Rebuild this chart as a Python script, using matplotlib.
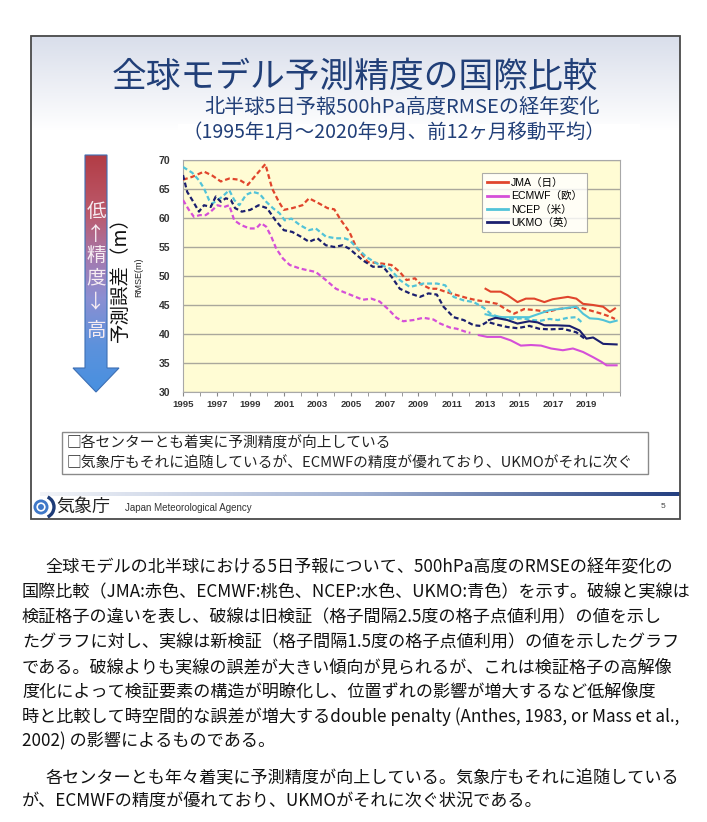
import numpy as np
import matplotlib
matplotlib.use('Agg')
import matplotlib.pyplot as plt
from matplotlib.colors import LinearSegmentedColormap
from matplotlib.patches import Rectangle, Polygon, Circle, Arc
from matplotlib.ticker import MultipleLocator

plt.rcParams['font.family'] = ['Noto Sans CJK JP', 'DejaVu Sans']

W, H = 707, 822

# ---- data ----
# 破線 = 旧検証 (2.5度格子)
jma_old_years = [1995.0, 1995.55, 1996.25, 1996.75, 1997.25, 1997.75, 1998.35, 1998.85, 1999.25, 1999.9,
                 2000.3, 2000.7, 2001.0, 2001.5, 2002.1, 2002.5, 2003.1, 2003.6, 2004.0, 2004.4,
                 2004.9, 2005.3, 2006.0, 2006.7, 2007.4, 2007.9, 2008.3, 2008.8, 2009.1, 2009.7,
                 2010.1, 2010.6, 2011.3, 2011.9, 2012.5, 2013.0, 2013.7, 2014.3, 2014.7, 2015.3,
                 2016.0, 2016.7, 2017.3, 2018.0, 2018.7, 2019.3, 2019.9, 2020.4, 2020.7]
jma_old = [66.6, 67.1, 68.0, 67.3, 66.3, 66.8, 66.6, 65.7, 67.1, 69.3,
           65.1, 62.8, 61.4, 61.7, 62.2, 63.4, 62.5, 61.7, 61.5, 59.6,
           57.6, 55.0, 52.4, 52.2, 51.9, 50.7, 49.3, 49.6, 48.7, 47.8,
           47.8, 47.3, 46.7, 46.2, 45.8, 45.6, 45.2, 44.1, 43.5, 44.3,
           44.1, 43.8, 44.3, 44.5, 44.5, 44.0, 43.5, 43.0, 42.6]

ecmwf_old_years = [1995.0, 1995.35, 1995.65, 1996.0, 1996.35, 1996.65, 1997.05, 1997.45, 1997.75, 1998.05,
                   1998.45, 1998.95, 1999.35, 1999.65, 1999.95, 2000.25, 2000.55, 2000.95, 2001.35, 2001.95,
                   2002.4, 2002.9, 2003.5, 2004.1, 2004.5, 2005.1, 2005.7, 2006.2, 2006.7, 2007.2,
                   2007.7, 2008.1, 2008.7, 2009.3, 2009.9, 2010.3, 2010.9, 2011.3, 2011.9, 2012.1]
ecmwf_old = [63.1, 61.4, 60.2, 60.5, 60.5, 61.1, 62.2, 61.9, 62.2, 59.6,
             58.8, 58.2, 58.2, 59.1, 58.5, 56.8, 54.7, 53.0, 51.9, 51.3,
             51.0, 50.7, 49.3, 47.8, 47.3, 46.6, 45.9, 46.1, 45.6, 44.3,
             42.8, 42.2, 42.4, 42.8, 42.5, 41.8, 41.1, 40.9, 40.3, 40.2]

ncep_old_years = [1995.0, 1995.55, 1995.95, 1996.25, 1996.55, 1996.75, 1997.35, 1997.75, 1998.05, 1998.35,
                  1998.75, 1999.15, 1999.55, 1999.95, 2000.35, 2000.75, 2001.05, 2001.45, 2001.95, 2002.5,
                  2002.9, 2003.5, 2004.1, 2004.6, 2004.9, 2005.3, 2005.9, 2006.5, 2007.3, 2007.9,
                  2008.5, 2009.3, 2010.1, 2010.6, 2011.1, 2011.7, 2012.3, 2012.9, 2013.3, 2013.8,
                  2014.5, 2015.2, 2015.8, 2016.3, 2016.8, 2017.3, 2017.9, 2018.4, 2018.8]
ncep_old = [68.8, 67.8, 66.5, 65.1, 63.1, 62.5, 63.7, 64.8, 63.1, 62.2,
            64.0, 64.5, 64.2, 62.8, 61.7, 60.8, 59.6, 59.9, 58.8, 57.9,
            58.2, 56.8, 56.5, 56.5, 56.2, 55.0, 53.3, 52.2, 51.3, 49.3,
            48.1, 48.7, 48.7, 48.4, 46.4, 45.8, 45.5, 44.5, 43.5, 42.9,
            42.6, 42.7, 42.4, 42.3, 42.6, 42.4, 42.8, 42.9, 41.8]

ukmo_old_years = [1995.0, 1995.25, 1995.55, 1995.95, 1996.25, 1996.65, 1996.95, 1997.25, 1997.55, 1997.85,
                  1998.1, 1998.5, 1999.0, 1999.5, 2000.0, 2000.5, 2001.0, 2001.5, 2002.0, 2002.5,
                  2003.0, 2003.5, 2004.0, 2004.5, 2004.9, 2005.7, 2006.3, 2006.9, 2007.4, 2007.9,
                  2008.5, 2009.1, 2009.6, 2010.1, 2010.5, 2011.1, 2011.7, 2012.3, 2012.7, 2013.1,
                  2013.7, 2014.3, 2014.9, 2015.6, 2016.2, 2016.8, 2017.6, 2018.4, 2018.9]
ukmo_old = [67.4, 64.5, 63.1, 61.1, 62.2, 61.9, 63.7, 62.8, 63.4, 63.1,
            61.7, 61.1, 61.4, 62.2, 61.7, 59.6, 57.9, 57.6, 56.8, 55.9,
            56.5, 55.3, 55.0, 55.3, 54.7, 52.7, 51.6, 51.6, 49.9, 47.8,
            47.0, 46.4, 47.0, 46.8, 44.7, 42.9, 42.4, 41.5, 41.4, 42.1,
            41.6, 41.2, 41.0, 41.4, 40.9, 40.8, 40.9, 40.3, 39.2]

# 実線 = 新検証 (1.5度格子)
jma_new_years = [2013.0, 2013.3, 2013.9, 2014.3, 2014.9, 2015.4, 2015.9, 2016.5, 2017.0, 2017.9,
                 2018.4, 2018.8, 2019.4, 2020.0, 2020.4, 2020.7]
jma_new = [47.8, 47.3, 47.3, 46.7, 45.5, 46.1, 46.1, 45.5, 46.0, 46.4,
           46.1, 45.2, 45.0, 44.7, 43.8, 44.4]

ecmwf_new_years = [2012.6, 2013.1, 2013.9, 2014.5, 2015.1, 2015.7, 2016.3, 2016.9, 2017.6, 2018.2,
                   2018.8, 2019.4, 2019.9, 2020.2, 2020.8]
ecmwf_new = [39.8, 39.5, 39.5, 38.9, 38.0, 38.1, 38.0, 37.5, 37.2, 37.5,
             36.9, 36.0, 35.2, 34.6, 34.6]

ncep_new_years = [2013.0, 2013.3, 2014.0, 2014.8, 2015.6, 2016.2, 2016.8, 2017.6, 2018.4, 2018.8,
                  2019.2, 2019.7, 2020.0, 2020.4, 2020.8]
ncep_new = [43.4, 43.2, 42.9, 42.9, 42.9, 43.5, 44.1, 44.4, 44.7, 43.5,
            42.7, 42.6, 42.4, 42.0, 42.3]

ukmo_new_years = [2013.2, 2013.6, 2014.3, 2014.9, 2015.6, 2016.1, 2016.5, 2017.2, 2018.0, 2018.6,
                  2019.0, 2019.4, 2020.0, 2020.8]
ukmo_new = [42.4, 42.8, 42.4, 41.8, 42.2, 42.0, 41.5, 41.5, 41.4, 40.6,
            39.2, 39.4, 38.3, 38.2]

series_labels = ['JMA（日）', 'ECMWF（欧）', 'NCEP（米）', 'UKMO（英）']
series_colors = ['#e0452c', '#d54fd8', '#52c3d8', '#1b1f6e']

box_lines = ['□各センターとも着実に予測精度が向上している',
             '□気象庁もそれに追随しているが、ECMWFの精度が優れており、UKMOがそれに次ぐ']

body_lines = [
    '全球モデルの北半球における5日予報について、500hPa高度のRMSEの経年変化の',
    '国際比較（JMA:赤色、ECMWF:桃色、NCEP:水色、UKMO:青色）を示す。破線と実線は',
    '検証格子の違いを表し、破線は旧検証（格子間隔2.5度の格子点値利用）の値を示し',
    'たグラフに対し、実線は新検証（格子間隔1.5度の格子点値利用）の値を示したグラフ',
    'である。破線よりも実線の誤差が大きい傾向が見られるが、これは検証格子の高解像',
    '度化によって検証要素の構造が明瞭化し、位置ずれの影響が増大するなど低解像度',
    '時と比較して時空間的な誤差が増大するdouble penalty (Anthes, 1983, or Mass et al.,',
    '2002) の影響によるものである。',
    '各センターとも年々着実に予測精度が向上している。気象庁もそれに追随している',
    'が、ECMWFの精度が優れており、UKMOがそれに次ぐ状況である。',
]
body_y = [567, 592, 617, 642, 667, 692, 717, 741, 778, 802]
body_indent = [True, False, False, False, False, False, False, False, True, False]
body_full = [True, True, True, True, True, True, True, False, True, False]

fig = plt.figure(figsize=(W / 100, H / 100), dpi=100)

# background axes in pixel units
bg = fig.add_axes([0, 0, 1, 1])
bg.axis('off')
bg.set_xlim(0, W)
bg.set_ylim(H, 0)

# slide with light top gradient
rows = np.arange(36, 520)
t = np.clip((rows - 36) / 95.0, 0, 1)[:, None, None]
top_c = np.array([0.85, 0.87, 0.92])
grad = top_c * (1 - t) + np.ones(3) * t
bg.imshow(np.repeat(grad, 2, axis=1), extent=(31, 680, 519, 36), aspect='auto', zorder=0)
bg.add_patch(Rectangle((31, 36), 649, 483, fill=False, ec='#4a4a4a', lw=1.3, zorder=5))

# white chart panel
bg.add_patch(Rectangle((178, 124), 462, 288, fc='white', ec='none', zorder=1))

bg.text(355, 77, '全球モデル予測精度の国際比較', fontsize=25, color='#213f78',
        ha='center', va='center', zorder=3)
bg.text(600, 107, '北半球5日予報500hPa高度RMSEの経年変化', fontsize=14.5, color='#213f78',
        ha='right', va='center', zorder=3)
bg.text(605, 132, '（1995年1月～2020年9月、前12ヶ月移動平均）', fontsize=14, color='#213f78',
        ha='right', va='center', zorder=3)

# gradient arrow
arrow_pts = [(85, 155), (107, 155), (107, 368), (119, 368), (96, 392), (73, 368), (85, 368)]
arrow = Polygon(arrow_pts, closed=True, fc='none', ec='#3d6fb4', lw=0.8, zorder=4)
bg.add_patch(arrow)
cmap = LinearSegmentedColormap.from_list(
    'acc', [(0.0, '#b23c45'), (0.25, '#bc5a6c'), (0.45, '#a27bb2'),
            (0.6, '#8c8fd2'), (0.8, '#5d92dc'), (1.0, '#4790e0')])
im = bg.imshow(np.linspace(0, 1, 256).reshape(-1, 1), cmap=cmap, extent=(72, 120, 393, 155),
               aspect='auto', zorder=3)
clip = Polygon(arrow_pts, closed=True, transform=bg.transData)
im.set_clip_path(clip)
for ch, yy in zip(['低', '↑', '精', '度', '↓', '高'], [211, 234, 255, 278, 302, 330]):
    bg.text(96, yy, ch, fontsize=14, color='#f6ecf2', ha='center', va='center', zorder=5)

bg.text(120, 274, '予測誤差（m）', fontsize=14, rotation=90, ha='center', va='center',
        color='#111111', zorder=3)
bg.text(139, 277, 'RMSE(m)', fontsize=6.5, rotation=90, ha='center', va='center',
        family=['Liberation Sans'], color='#222222', zorder=3)

# summary box
bg.add_patch(Rectangle((62, 432), 586, 42, fc='white', ec='#8a8a8a', lw=1, zorder=3))
bg.text(67, 444, box_lines[0], fontsize=10.6, va='center', color='#222222', zorder=4)
bg.text(67, 464, box_lines[1], fontsize=10.6, va='center', color='#222222', zorder=4)

# footer
line_grad = np.linspace(0, 1, 256).reshape(1, -1)
foot_cmap = LinearSegmentedColormap.from_list('foot', ['#f2f4f8', '#9fb0d2', '#243f80'])
bg.imshow(line_grad, cmap=foot_cmap, extent=(40, 680, 496, 492), aspect='auto', zorder=2)
bg.add_patch(Circle((41, 507), 7.5, fc='#3f78c8', ec='none', zorder=4))
bg.add_patch(Circle((41, 507), 3.8, fill=False, ec='white', lw=1.2, zorder=5))
bg.add_patch(Arc((43, 507), 22, 22, theta1=-65, theta2=65, color='#1e3c78', lw=2.4, zorder=4))
bg.text(56, 507, '気象庁', fontsize=13, color='#222222', va='center', zorder=4)
bg.text(125, 508, 'Japan Meteorological Agency', fontsize=7, family=['Liberation Sans'],
        color='#333333', va='center', zorder=4)
bg.text(661, 506, '5', fontsize=6, family=['Liberation Sans'], color='#444444',
        va='center', zorder=4)

# body text, one size that makes the full lines fit the page width
body_texts = []
for line, yy, ind in zip(body_lines, body_y, body_indent):
    body_texts.append(bg.text(45 if ind else 22, yy, line, fontsize=13, color='#111111',
                              va='center', zorder=4))
fig.canvas.draw()
rend = fig.canvas.get_renderer()
scale = 1.0
for txt, ind, full in zip(body_texts, body_indent, body_full):
    if full:
        w = txt.get_window_extent(rend).width
        target = 690 - (45 if ind else 22)
        scale = min(scale, target / w)
for txt in body_texts:
    txt.set_fontsize(13 * scale)

# ---- chart ----
ax = fig.add_axes([183 / W, 1 - 392 / H, (620 - 183) / W, (392 - 160) / H])
ax.set_facecolor('#fffcd4')
old_sets = [(jma_old_years, jma_old), (ecmwf_old_years, ecmwf_old),
            (ncep_old_years, ncep_old), (ukmo_old_years, ukmo_old)]
new_sets = [(jma_new_years, jma_new), (ecmwf_new_years, ecmwf_new),
            (ncep_new_years, ncep_new), (ukmo_new_years, ukmo_new)]
for (xs, ys), c in zip(old_sets, series_colors):
    ax.plot(xs, ys, color=c, lw=1.6, dashes=(2.2, 1.3), zorder=3)
for (xs, ys), c, lab in zip(new_sets, series_colors, series_labels):
    ax.plot(xs, ys, color=c, lw=1.5, label=lab, zorder=4)

ax.set_xlim(1995, 2021)
ax.set_ylim(30, 70)
ax.set_yticks(range(30, 71, 5))
ax.set_xticks(range(1995, 2020, 2))
ax.xaxis.set_minor_locator(MultipleLocator(1))
ax.yaxis.grid(True, color='#aaa89c', lw=1)
ax.set_axisbelow(True)
for s in ax.spines.values():
    s.set_color('#a8a8a8')
ax.tick_params(axis='y', length=0, pad=9, labelsize=7.5, labelcolor='#333333')
ax.tick_params(axis='x', which='both', length=3, color='#888888', pad=3,
               labelsize=6.8, labelcolor='#333333')
for lbl in ax.get_xticklabels() + ax.get_yticklabels():
    lbl.set_family(['Liberation Sans'])
    lbl.set_fontweight('bold')

leg = ax.legend(loc='upper right', bbox_to_anchor=((592 - 183) / 437, 1 - 8 / 232),
                frameon=True, fancybox=False, handlelength=2.0,
                labelspacing=0.3, borderpad=0.45, handletextpad=0.3,
                prop={'family': ['Liberation Sans', 'Noto Sans CJK JP'], 'size': 7.6})
leg.get_frame().set_edgecolor('#999999')
leg.get_frame().set_linewidth(0.8)
for h in leg.get_lines():
    h.set_linewidth(2)

fig.savefig('out.png', dpi=100, facecolor='white')
